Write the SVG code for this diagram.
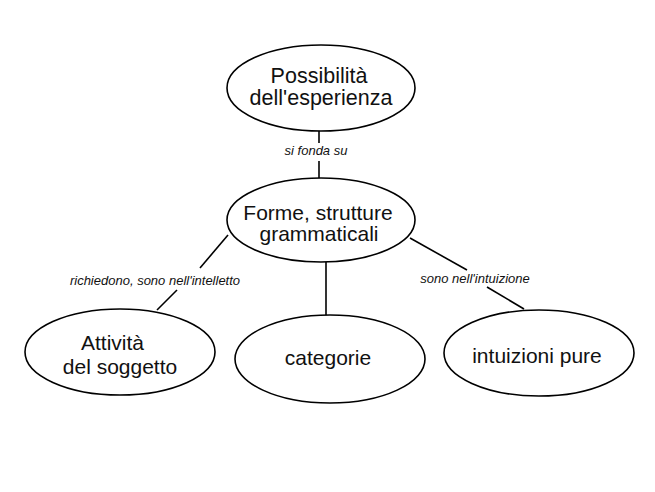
<svg xmlns="http://www.w3.org/2000/svg" width="655" height="492" viewBox="0 0 655 492">
<style>
.node{fill:#fff;stroke:#000;stroke-width:1.6}
.t{font-family:"Liberation Sans",Arial,sans-serif;font-size:21px;fill:#111;text-anchor:middle}
.lbl{font-family:"Liberation Sans",Arial,sans-serif;font-size:13px;font-style:italic;fill:#111;text-anchor:middle}
.edge{stroke:#000;stroke-width:1.6;fill:none}
</style>
<rect width="655" height="492" fill="#fff"/>
<g id="connectors">
<line class="edge" x1="319" y1="131" x2="319" y2="143"/>
<line class="edge" x1="319" y1="161" x2="319" y2="178"/>
<line class="edge" x1="228" y1="235" x2="200" y2="268"/>
<line class="edge" x1="177" y1="290" x2="157" y2="310"/>
<line class="edge" x1="326" y1="262" x2="326" y2="316"/>
<line class="edge" x1="410" y1="238" x2="467" y2="270"/>
<line class="edge" x1="487" y1="287" x2="524" y2="309"/>
<text class="lbl" x="316" y="155">si fonda su</text>
<text class="lbl" x="155" y="285">richiedono, sono nell'intelletto</text>
<text class="lbl" x="475" y="283">sono nell'intuizione</text>
</g>
<g id="n-possibilita">
<ellipse class="node" cx="321" cy="88" rx="94" ry="43"/>
<text class="t" x="319" y="83" style="font-size:21.5px">Possibilità</text>
<text class="t" x="321" y="105" style="font-size:21.5px">dell'esperienza</text>
</g>
<g id="n-forme">
<ellipse class="node" cx="321" cy="220" rx="94" ry="42"/>
<text class="t" x="318" y="220">Forme, strutture</text>
<text class="t" x="319" y="241">grammaticali</text>
</g>
<g id="n-attivita">
<ellipse class="node" cx="120" cy="352" rx="95" ry="43"/>
<text class="t" x="81" y="350" style="text-anchor:start">Attività</text>
<text class="t" x="120" y="374">del soggetto</text>
</g>
<g id="n-categorie">
<ellipse class="node" cx="330" cy="359" rx="95" ry="44"/>
<text class="t" x="328" y="365">categorie</text>
</g>
<g id="n-intuizioni">
<ellipse class="node" cx="539" cy="353" rx="95" ry="43"/>
<text class="t" x="537" y="363">intuizioni pure</text>
</g>
</svg>
